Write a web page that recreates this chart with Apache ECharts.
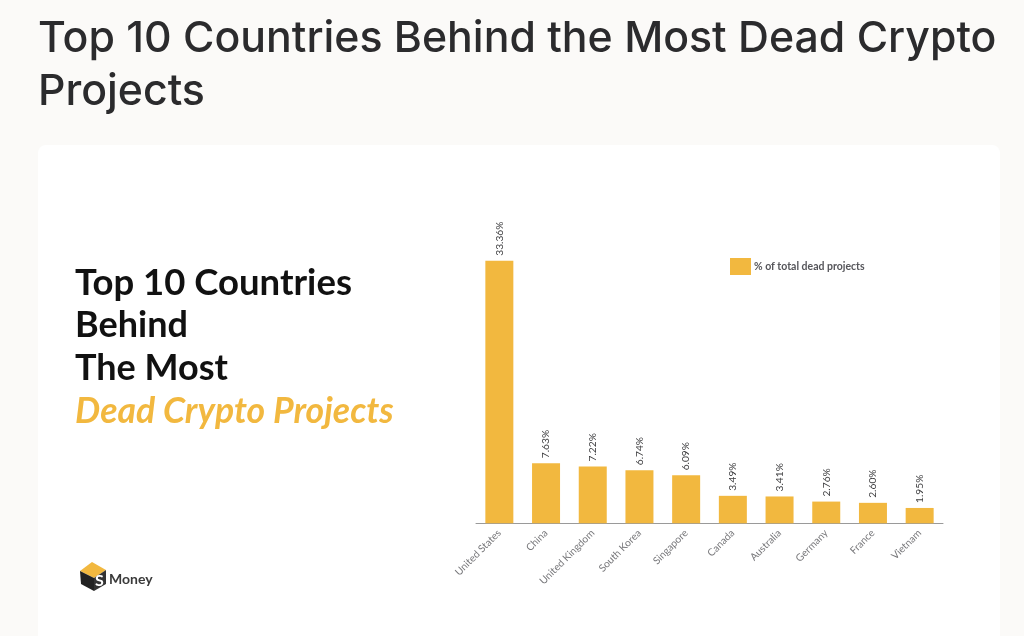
<!DOCTYPE html>
<html>
<head>
<meta charset="utf-8">
<style>html,body{margin:0;padding:0;background:#fbfaf8}#c{width:1024px;height:636px}</style>
<script src="https://cdn.jsdelivr.net/npm/echarts@6/dist/echarts.min.js"></script>
</head>
<body>
<div id="c"></div>
<script>
const categories = ["United States","China","United Kingdom","South Korea","Singapore","Canada","Australia","Germany","France","Vietnam"];
const shareValues = [33.36,7.63,7.22,6.74,6.09,3.49,3.41,2.76,2.60,1.95];
const seriesName = "% of total dead projects";
const pageTitleLines = ["Top 10 Countries Behind the Most Dead Crypto","Projects"];
const panelLines = ["Top 10 Countries","Behind","The Most"];
const panelAccent = "Dead Crypto Projects";
const gold = "#f2b83f";

const chart = echarts.init(document.getElementById('c'), null, {renderer:'canvas'});
const txt = (x,y,text,font,fill) => ({type:'text',x,y,silent:true,style:{text,font,fill,verticalAlign:'middle',align:'left'}});

const graphics = [
  {type:'rect',z:-10,shape:{x:38,y:145,width:962,height:520,r:8},style:{fill:'#ffffff'}},
  txt(38,39,pageTitleLines[0],'500 42.8px Inter','#2b2b2d'),
  txt(38,92,pageTitleLines[1],'500 42.8px Inter','#2b2b2d'),
  txt(75,283,panelLines[0],'700 36.5px Lato','#111111'),
  txt(75,325,panelLines[1],'700 36px Lato','#111111'),
  txt(75,368,panelLines[2],'700 36px Lato','#111111'),
  txt(75,412,panelAccent,'italic 700 35.6px Lato',gold),
  // logo cube
  {type:'polygon',shape:{points:[[80,571],[92,562],[106,570],[94,578]]},style:{fill:gold}},
  {type:'polygon',shape:{points:[[80,571],[94,578],[94,591],[81,584]]},style:{fill:'#222222'}},
  {type:'polygon',shape:{points:[[94,578],[106,570],[106,584],[94,591]]},style:{fill:'#333333'}},
  txt(95,581,'S','700 16px Lato','#ffffff'),
  txt(109,579,'Money','700 14px Lato','#3a3a3a')
];

chart.setOption({
  animation:false,
  backgroundColor:'#fbfaf8',
  graphic:{elements:graphics},
  legend:{
    show:true,left:725,top:253,itemWidth:21,itemHeight:17,itemGap:4,
    icon:'rect',selectedMode:false,
    textStyle:{fontFamily:'Lato',fontWeight:700,fontSize:10.5,color:'#55555a',padding:[0,0,0,-2]},
    data:[seriesName]
  },
  grid:{left:476,top:208.5,width:467,height:314.8,containLabel:false},
  xAxis:{
    type:'category',data:categories,
    axisTick:{show:false},
    axisLine:{lineStyle:{color:'#9a9a9a',width:1}},
    axisLabel:{rotate:45,interval:0,margin:8,fontFamily:'Lato',fontSize:10.2,color:'#77777a'}
  },
  yAxis:{type:'value',min:0,max:40,show:false,splitLine:{show:false}},
  series:[{
    name:seriesName,type:'bar',data:shareValues,barWidth:28,
    itemStyle:{color:gold},
    label:{show:true,position:'top',rotate:90,distance:5,align:'left',verticalAlign:'middle',
      fontFamily:'Lato',fontSize:10.2,color:'#3c3c3e',
      formatter:p=>p.value.toFixed(2)+'%'}
  }]
});
</script>
</body>
</html>
